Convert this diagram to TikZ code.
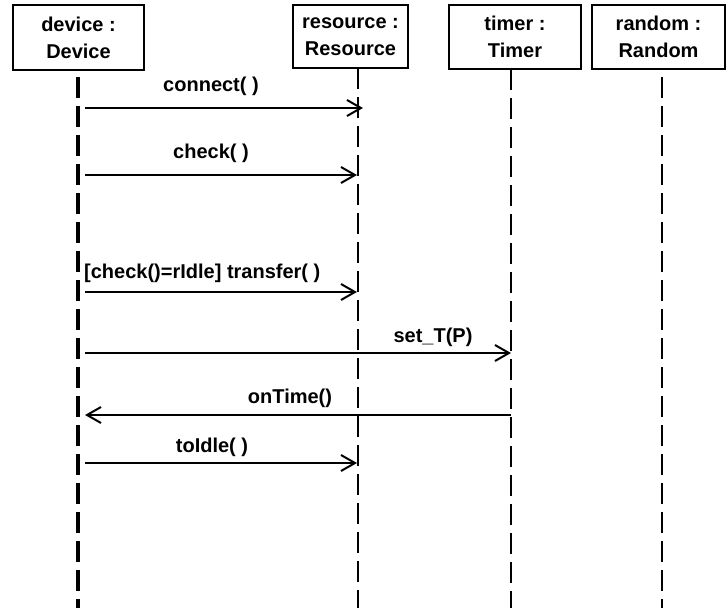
\documentclass[tikz,border=0pt]{standalone}
\usepackage{fontspec}
\setmainfont{Liberation Sans}
\usetikzlibrary{arrows.meta}
\begin{document}
\begin{tikzpicture}[x=1pt,y=-1pt,
  obj/.style={draw,line width=2pt,inner sep=0pt,align=center,font=\bfseries\fontsize{20}{27}\selectfont},
  life/.style={line width=2pt,dash pattern=on 21pt off 8pt},
  msg/.style={line width=2pt,-{Straight Barb[length=14pt,width=16pt,line width=2pt]}},
  lbl/.style={font=\bfseries\fontsize{20}{24}\selectfont,inner sep=0pt}]
\useasboundingbox (0,0) rectangle (728,608);
% objects
\node[obj,minimum width=131pt,minimum height=65pt] (dev) at (78.5,37.5) {device :\\Device};
\node[obj,minimum width=115pt,minimum height=63pt] (res) at (350.5,36.5) {resource :\\Resource};
\node[obj,minimum width=132pt,minimum height=64pt] (tim) at (515,37) {timer :\\Timer};
\node[obj,minimum width=133pt,minimum height=64pt] (ran) at (658.5,37) {random :\\Random};
% lifelines
\coordinate (devtop) at (78,77);  \coordinate (devbot) at (78,608);
\coordinate (restop) at (358,68); \coordinate (resbot) at (358,608);
\coordinate (timtop) at (511,69); \coordinate (timbot) at (511,608);
\coordinate (rantop) at (662,77); \coordinate (ranbot) at (662,608);
\draw[life,line width=3.5pt] (devtop) -- (devbot);
\draw[life] (restop) -- (resbot);
\draw[life] (timtop) -- (timbot);
\draw[life] (rantop) -- (ranbot);
% message endpoints
\coordinate (m1a) at (85,108);  \coordinate (m1b) at (363,108);
\coordinate (m2a) at (85,175);  \coordinate (m2b) at (357,175);
\coordinate (m3a) at (85,292);  \coordinate (m3b) at (357,292);
\coordinate (m4a) at (85,353);  \coordinate (m4b) at (511,353);
\coordinate (m5a) at (511,415); \coordinate (m5b) at (85,415);
\coordinate (m6a) at (85,463);  \coordinate (m6b) at (357,463);
\draw[msg] (m1a) -- (m1b);
\draw[msg] (m2a) -- (m2b);
\draw[msg] (m3a) -- (m3b);
\draw[msg] (m4a) -- (m4b);
\draw[msg] (m5a) -- (m5b);
\draw[msg] (m6a) -- (m6b);
% labels
\node[lbl] (l1) at (211,86) {connect( )};
\node[lbl] (l2) at (211,153) {check( )};
\node[lbl,anchor=west] (l3) at (84,273) {[check()=rIdle] transfer( )};
\node[lbl] (l4) at (433,337) {set\_T(P)};
\node[lbl] (l5) at (290,398) {onTime()};
\node[lbl] (l6) at (212,447) {toIdle( )};
\end{tikzpicture}
\end{document}
